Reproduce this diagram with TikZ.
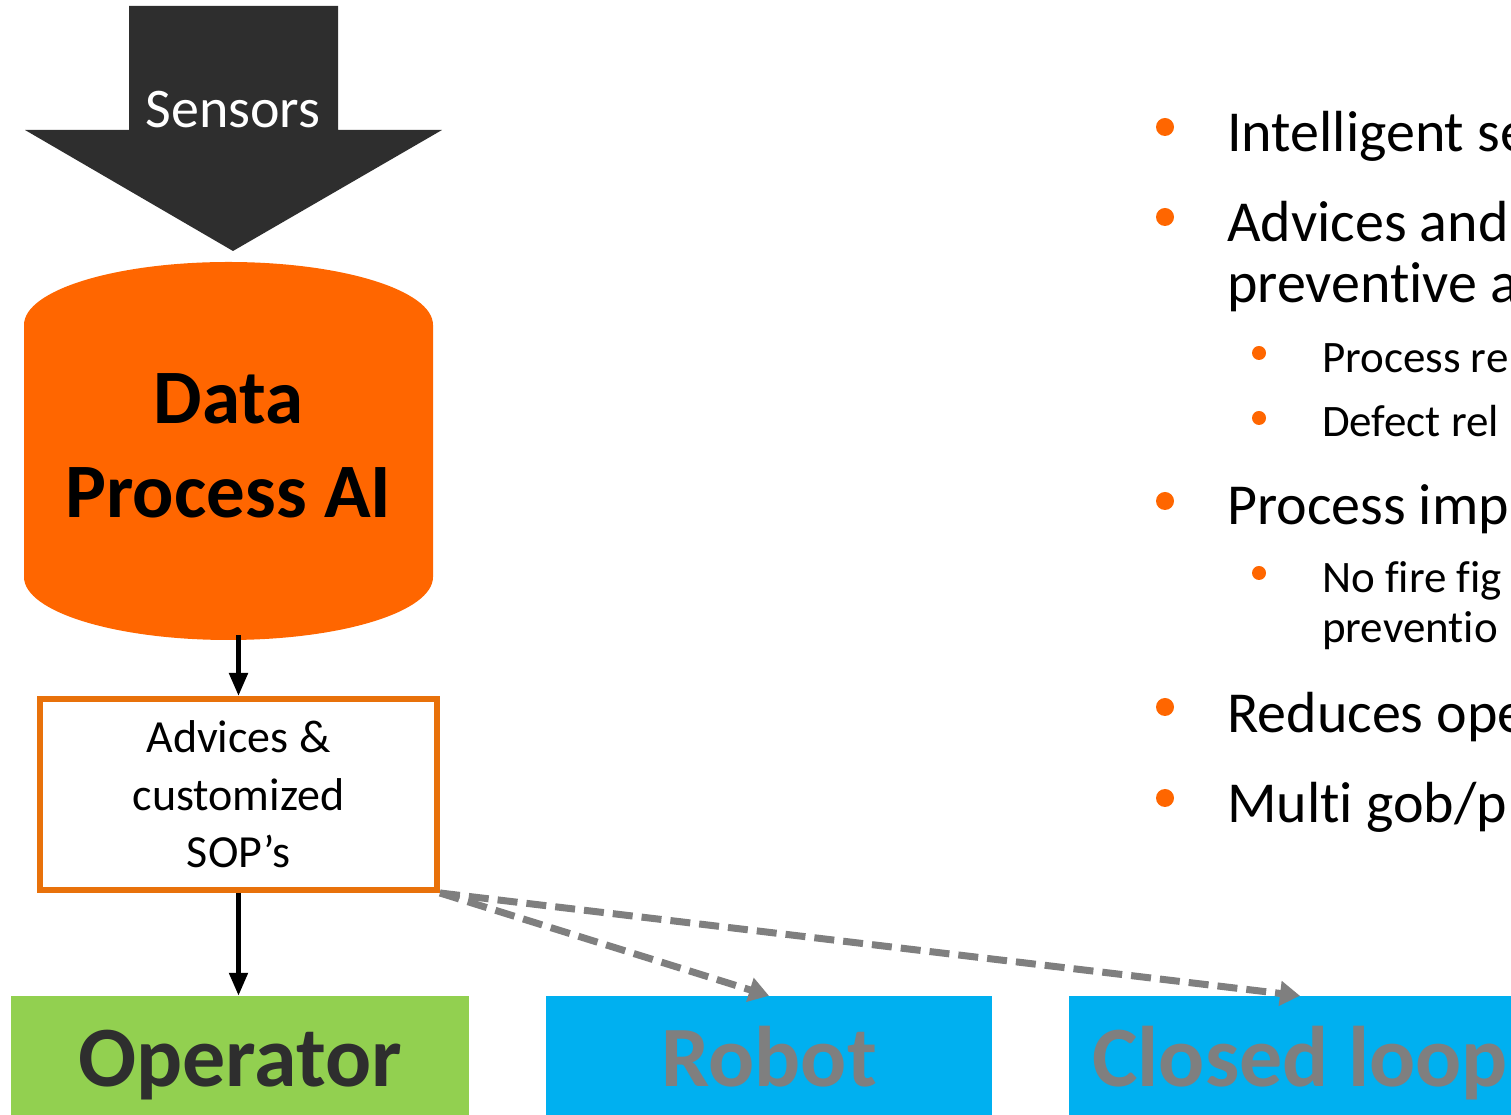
\documentclass[tikz,border=0pt]{standalone}
\usepackage{fontspec}
\setmainfont{Carlito}[Ligatures={NoCommon,NoContextual}, RawFeature={-liga;-clig;-calt}]
\usetikzlibrary{positioning}
\usetikzlibrary{arrows.meta}

\definecolor{sensgray}{HTML}{2E2E2E}
\definecolor{aiorange}{HTML}{FF6600}
\definecolor{boxorange}{HTML}{E8710A}
\definecolor{opgreen}{HTML}{92D050}
\definecolor{outblue}{HTML}{00B0F0}
\definecolor{dashgray}{HTML}{7F7F7F}

\begin{document}
\begin{tikzpicture}[
    x = 1pt,
    y = 1pt,
    inner sep = 0pt,
    ]

    \tikzstyle{output}=[
    minimum height = 121,
    text height = 61,
    text depth = 0,
    font = \fontsize{86}{100}\selectfont\bfseries,
    ]
    \tikzstyle{solidarrow}=[
    -{Triangle[length=23pt, width=18pt]},
    line width = 5pt,
    black,
    ]
    \tikzstyle{dasharrow}=[
    -{Triangle[length=20pt, width=24pt]},
    line width = 7pt,
    dashgray,
    dash pattern = on 20pt off 9pt,
    ]
    \tikzstyle{bigdot}=[circle, fill=aiorange, minimum size=18]
    \tikzstyle{smalldot}=[circle, fill=aiorange, minimum size=14]
    \tikzstyle{bigtext}=[anchor=base west, font=\fontsize{58}{62}\selectfont]
    \tikzstyle{smalltext}=[anchor=base west, font=\fontsize{45}{50}\selectfont]

    \useasboundingbox (0,0) rectangle (1511,1115);
    \clip (0,0) rectangle (1511,1115);

    % sensors
    \fill[sensgray] (129,1109) -- (338,1109) -- (338,985) -- (442,985)
      -- (233,864) -- (25,985) -- (129,985) -- cycle;
    \node[anchor=base, text=white, font=\fontsize{56}{60}\selectfont] (sensors) at (233,987) {Sensors};

    % data store
    \fill[aiorange] (24,790) -- (24,538)
      arc[start angle=180, end angle=360, x radius=204.5, y radius=63]
      -- (433,790)
      arc[start angle=0, end angle=180, x radius=204.5, y radius=63] -- cycle;
    \node[minimum width=409, minimum height=378, align=center,
      font=\fontsize{77}{94}\selectfont\bfseries] (db) at (228.5,669) {Data\\Process AI};

    \node[draw=boxorange, line width=6pt, minimum width=397, minimum height=191,
      align=center, font=\fontsize{46}{57.5}\selectfont] (advice) at (238.5,320.5)
      {Advices \&\\customized\\SOP’s};

    \node[output, fill=opgreen, text=sensgray, minimum width=458] (operator) at (240,58.5) {Operator};
    \node[output, fill=outblue, text=dashgray, minimum width=446] (robot) at (769,58.5) {Robot};
    \node[output, fill=outblue, text=dashgray, minimum width=462] (closed) at (1300,58.5) {Closed loop};

    \draw[solidarrow] (db.south -| advice.north) -- (advice.north);
    \draw[solidarrow] (advice.south) -- (advice.south |- operator.north);
    \draw[dasharrow] (advice.south east) -- (robot.north);
    \draw[dasharrow] (advice.south east) -- (closed.north);

    % bullet list
    \node[bigdot] (d1) at (1165,988) {};
    \node[bigtext] (t1) at (1227,963) {Intelligent se};
    \node[bigdot] (d2) at (1165,898) {};
    \node[bigtext] (t2) at (1227,873) {Advices and};
    \node[bigtext] (t2b) at (1227,812) {preventive a};
    \node[smalldot] (d21) at (1259,762) {};
    \node[smalltext] (t21) at (1322,742) {Process re};
    \node[smalldot] (d22) at (1259,697) {};
    \node[smalltext] (t22) at (1322,678) {Defect rel};
    \node[bigdot] (d3) at (1165,614) {};
    \node[bigtext] (t3) at (1227,590) {Process imp};
    \node[smalldot] (d31) at (1259,542) {};
    \node[smalltext] (t31) at (1322,522) {No fire fig};
    \node[smalltext] (t31b) at (1322,472) {preventio};
    \node[bigdot] (d4) at (1165,408) {};
    \node[bigtext] (t4) at (1227,382) {Reduces ope};
    \node[bigdot] (d5) at (1165,317) {};
    \node[bigtext] (t5) at (1227,292) {Multi gob/p};
  \end{tikzpicture}
\end{document}
